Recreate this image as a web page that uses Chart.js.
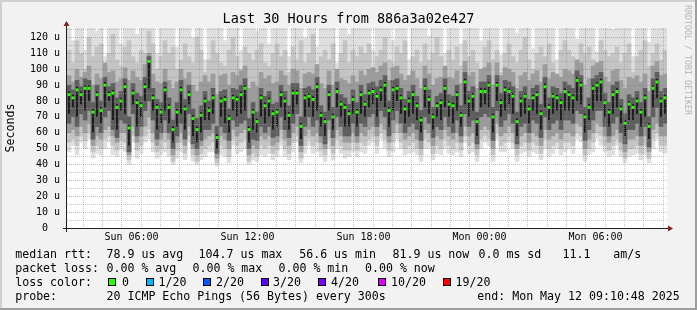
<!DOCTYPE html>
<html>
<head>
<meta charset="utf-8">
<script src="https://cdn.jsdelivr.net/npm/chart.js@4.4.1/dist/chart.umd.min.js"></script>
<style>
html, body { margin: 0; padding: 0; }
body { width: 697px; height: 310px; overflow: hidden; position: relative; background: #f2f2f2; font-family: 'DejaVu Sans Mono', monospace; }
#graf { position: absolute; left: 0; top: 0; }
.leg { position: absolute; font-size: 11.6px; line-height: 14px; white-space: pre; color: #000; }
.box { position: absolute; width: 6px; height: 6px; border: 1px solid #000; top: 278px; }
.sombra { position: absolute; }
#rrd { position: absolute; left: 692.6px; top: 4.5px; font-size: 8.3px; line-height: 10px; color: #b4b4b4; white-space: pre; transform-origin: 0 0; transform: rotate(90deg); }
</style>
</head>
<body>
<div class="sombra" style="left:0;top:0;width:697px;height:2px;background:#d0d0d0"></div>
<div class="sombra" style="left:0;top:0;width:2px;height:310px;background:#d0d0d0"></div>
<div class="sombra" style="left:0;top:308px;width:697px;height:2px;background:#9e9e9e"></div>
<div class="sombra" style="left:695px;top:0;width:2px;height:310px;background:#9e9e9e"></div>
<canvas id="graf" width="697" height="310"></canvas>
<div id="rrd">RRDTOOL / TOBI OETIKER</div>

<div class="leg" style="left:15.2px;top:247px">median rtt:</div>
<div class="leg" style="left:106.5px;top:247px">78.9 us avg</div>
<div class="leg" style="left:198.6px;top:247px">104.7 us max</div>
<div class="leg" style="left:299.2px;top:247px">56.6 us min</div>
<div class="leg" style="left:392.5px;top:247px">81.9 us now</div>
<div class="leg" style="left:478.5px;top:247px">0.0 ms sd</div>
<div class="leg" style="left:562.6px;top:247px">11.1</div>
<div class="leg" style="left:613.2px;top:247px">am/s</div>

<div class="leg" style="left:15.2px;top:261px">packet loss:</div>
<div class="leg" style="left:106.5px;top:261px">0.00 % avg</div>
<div class="leg" style="left:192.5px;top:261px">0.00 % max</div>
<div class="leg" style="left:278.5px;top:261px">0.00 % min</div>
<div class="leg" style="left:365px;top:261px">0.00 % now</div>

<div class="leg" style="left:15.2px;top:275px">loss color:</div>
<div class="box" style="left:108px;background:#26ff00"></div>
<div class="leg" style="left:122px;top:275px">0</div>
<div class="box" style="left:145.5px;background:#00b8ff"></div>
<div class="leg" style="left:158.5px;top:275px">1/20</div>
<div class="box" style="left:203px;background:#0059ff"></div>
<div class="leg" style="left:216px;top:275px">2/20</div>
<div class="box" style="left:260.5px;background:#5e00ff"></div>
<div class="leg" style="left:273px;top:275px">3/20</div>
<div class="box" style="left:318px;background:#7e00ff"></div>
<div class="leg" style="left:331px;top:275px">4/20</div>
<div class="box" style="left:377.5px;background:#dd00ff"></div>
<div class="leg" style="left:391px;top:275px">10/20</div>
<div class="box" style="left:442.5px;background:#ff0000"></div>
<div class="leg" style="left:455.5px;top:275px">19/20</div>

<div class="leg" style="left:15.2px;top:289px">probe:</div>
<div class="leg" style="left:106.5px;top:289px">20 ICMP Echo Pings (56 Bytes) every 300s</div>
<div class="leg" style="left:477.3px;top:289px">end: Mon May 12 09:10:48 2025</div>

<script>
// mediana por passo (us)
var mediana = [
	84,82,87,84,88,88,73,84,74,90,84,85,76,80,89,63,85,79,77,89,105,82,76,73,87,
	76,62,73,87,75,84,69,62,71,80,74,82,57,80,81,69,82,81,84,88,62,73,67,82,77,
	80,72,73,84,80,71,85,85,64,82,83,81,89,71,67,84,70,86,78,76,72,81,73,84,78,
	85,86,83,87,90,74,87,88,82,75,80,84,77,68,88,81,70,77,79,88,78,77,84,71,92,
	80,83,67,86,86,90,70,90,79,87,86,83,67,80,83,75,82,84,72,89,76,83,82,79,86,
	84,82,93,90,70,76,88,90,92,79,73,84,86,75,66,78,76,80,73,82,64,88,92,80,82
];

// fumaca: limites de cada faixa
var fumaca_max = [
	130,118,130,130,112,130,130,124,130,108,130,130,130,116,130,130,130,122,130,130,130,130,110,130,130,
	130,130,114,130,130,130,120,130,130,106,130,130,130,130,118,130,130,130,112,130,130,130,124,130,130,
	116,130,130,130,130,108,130,130,130,120,130,130,114,130,130,130,130,104,130,130,122,130,130,130,130,
	130,112,130,130,130,130,118,130,130,130,106,130,130,130,130,121,130,130,130,110,130,130,130,116,130,
	130,130,130,118,130,130,130,130,109,130,130,130,123,130,130,130,113,130,130,130,130,130,106,130,130,
	130,130,119,130,130,130,130,111,130,130,130,125,130,130,130,130,108,130,130,130,117,130,130,130,130
];
var fumaca_hi2 = [
	112,104,118,110,100,120,108,114,116,98,110,122,106,102,114,118,108,104,112,110,124,116,100,108,118,
	110,114,100,106,116,108,104,120,112,98,106,118,110,104,102,112,120,108,100,114,110,106,112,116,104,
	102,110,116,108,112,98,114,106,118,104,110,122,100,108,112,106,116,96,110,118,104,112,108,114,110,
	116,100,108,112,120,106,104,114,110,118,96,108,112,104,116,106,110,120,108,98,112,106,114,102,118,
	108,112,104,100,114,118,106,112,98,110,116,108,104,112,120,106,100,110,114,108,116,104,96,112,118,
	112,108,104,116,110,114,106,100,118,112,108,110,114,104,110,116,98,108,112,118,102,110,116,106,112
];
var fumaca_hi3 = [
	96,92,100,95,98,102,90,97,94,104,98,99,92,94,101,93,99,95,93,103,110,97,92,91,100,
	93,88,92,100,94,98,90,86,92,96,92,97,84,96,97,90,98,96,99,102,88,92,89,98,94,
	96,91,92,99,96,90,100,99,88,97,98,97,103,91,88,99,90,100,94,93,91,96,92,99,96,
	100,101,98,102,104,93,101,102,97,93,96,99,94,88,102,97,90,94,95,102,95,94,99,91,105,
	96,98,88,100,101,104,90,104,96,101,100,98,88,96,98,93,97,99,92,103,94,98,97,95,100,
	99,97,106,104,90,94,102,104,105,95,92,99,100,93,88,95,94,96,92,97,86,102,105,96,97
];
var fumaca_hi4 = [
	90,87,93,89,94,93,79,90,80,95,89,91,82,86,94,70,91,85,83,95,108,88,81,79,92,
	82,68,79,93,81,90,75,69,77,86,80,88,64,86,87,75,88,87,90,94,69,79,73,88,83,
	86,78,79,90,86,77,91,91,70,88,89,87,95,77,73,90,76,92,84,82,78,87,79,90,84,
	91,92,89,93,96,80,93,94,88,81,86,90,83,74,94,87,76,83,85,94,84,83,90,77,98,
	86,89,73,92,92,96,76,96,85,93,92,89,73,86,89,81,88,90,78,95,82,89,88,85,92,
	90,88,99,96,76,82,94,96,98,85,79,90,92,81,72,84,82,86,79,88,70,94,98,86,88
];
var fumaca_hi5 = [
	86,84,89,86,90,90,75,86,76,92,86,87,78,82,91,65,87,81,79,91,106,84,78,75,89,
	78,64,75,89,77,86,71,64,73,82,76,84,59,82,83,71,84,83,86,90,64,75,69,84,79,
	82,74,75,86,82,73,87,87,66,84,85,83,91,73,69,86,72,88,80,78,74,83,75,86,80,
	87,88,85,89,92,76,89,90,84,77,82,86,79,70,90,83,72,79,81,90,80,79,86,73,94,
	82,85,69,88,88,92,72,92,81,89,88,85,69,82,85,77,84,86,74,91,78,85,84,81,88,
	86,84,95,92,72,78,90,92,94,81,75,86,88,77,68,80,78,82,75,84,66,90,94,82,84
];
var fumaca_lo5 = [
	72,76,70,78,74,80,60,70,66,76,80,68,62,74,72,52,78,64,70,80,88,74,62,66,74,
	66,54,64,72,62,78,58,54,60,68,68,72,50,70,66,60,74,70,72,74,54,62,60,70,66,
	70,62,64,76,68,62,72,78,56,70,76,70,74,64,58,74,62,76,70,64,64,72,64,72,70,
	76,78,70,80,76,64,74,80,72,66,70,72,68,60,76,72,62,70,68,76,70,66,74,64,78,
	70,74,58,76,78,76,60,80,70,74,78,72,58,70,72,66,74,72,62,76,68,72,74,68,74,
	74,72,80,78,60,68,74,80,80,70,64,72,76,66,58,68,68,72,64,70,56,76,82,70,72
];
var fumaca_lo4 = [
	66,70,64,72,68,74,56,64,60,70,74,62,57,68,66,48,72,58,64,74,80,68,56,60,68,
	60,50,58,66,56,72,53,50,55,62,62,66,47,64,60,55,68,64,66,68,50,56,55,64,60,
	64,57,58,70,62,57,66,72,52,64,70,64,68,58,53,68,57,70,64,58,58,66,58,66,64,
	70,72,64,74,70,58,68,74,66,60,64,66,62,55,70,66,57,64,62,70,64,60,68,58,72,
	64,68,53,70,72,70,55,74,64,68,72,66,53,64,66,60,68,66,57,70,62,66,68,62,68,
	68,66,74,72,55,62,68,74,74,64,58,66,70,60,53,62,62,66,58,64,51,70,76,64,66
];
var fumaca_lo3 = [
	60,62,58,64,60,66,52,58,56,62,64,58,54,60,60,46,64,54,58,64,70,60,52,56,60,
	56,46,54,60,52,64,50,46,52,56,58,60,44,58,56,50,62,58,60,62,46,52,50,58,56,
	58,52,54,62,56,52,60,64,48,58,62,58,60,54,50,62,52,62,58,54,54,60,54,60,58,
	62,64,58,66,62,54,60,66,60,56,58,60,56,50,62,60,52,58,56,62,58,56,60,54,64,
	58,60,50,62,64,62,50,66,58,60,64,60,50,58,60,54,60,58,52,62,56,58,60,56,60,
	60,58,66,64,50,56,60,66,64,58,54,58,62,54,48,56,56,58,52,58,48,62,66,58,58
];
var fumaca_lo2 = [
	54,56,52,58,55,60,48,52,50,56,58,52,49,55,54,43,58,49,52,58,62,54,48,50,54,
	50,42,49,54,47,58,46,42,47,50,52,54,41,52,50,45,56,52,54,56,42,47,45,52,50,
	52,47,49,56,50,47,54,58,44,52,56,52,54,49,46,56,47,56,52,49,49,54,49,54,52,
	56,58,52,60,56,49,54,60,54,50,52,54,50,46,56,54,47,52,50,56,52,50,54,49,58,
	52,54,46,56,58,56,46,60,52,54,58,54,46,52,54,49,54,52,47,56,50,52,54,50,54,
	54,52,60,58,46,50,54,60,58,52,49,52,56,49,44,50,50,52,47,52,44,56,60,52,52
];
var fumaca_min = [
	48,52,46,54,50,56,44,47,46,50,54,46,45,50,48,40,54,44,47,54,56,48,44,46,48,
	45,40,44,48,43,54,42,40,43,45,48,48,39,46,45,41,52,47,48,50,40,43,42,46,45,
	47,43,45,52,45,43,48,54,41,47,52,47,48,45,42,50,43,50,47,44,45,48,45,48,47,
	52,54,47,56,50,45,48,56,50,46,47,48,46,42,50,50,43,47,46,50,47,46,48,45,54,
	47,48,42,50,54,52,42,56,48,48,54,50,42,47,48,45,48,47,43,50,45,47,50,46,48,
	50,47,56,54,42,46,48,56,52,48,45,46,52,45,41,45,46,47,43,46,41,50,56,48,47
];

// eixo do tempo: inicio Sun 03:10:48, 30 horas
var hora_inicio = 3 + 10.8 / 60;
var horas_rotulo = [6, 12, 18, 24, 30];
var rotulos_tempo = ["Sun 06:00", "Sun 12:00", "Sun 18:00", "Mon 00:00", "Mon 06:00"];
var ticks_y = [0,5,10,15,20,25,30,35,40,45,50,55,60,65,70,75,80,85,90,95,100,105,110,115,120,125];

var passos = mediana.map(function (v, i) { return i; });
var cor_grid = "rgba(150, 150, 150, 0.55)";
var cor_mgrid = "rgba(225, 80, 80, 0.5)";
var fonte = "'DejaVu Sans Mono', monospace";

function faixa(lo, hi, cor, ordem, largura) {
	return {
		type: "bar",
		data: lo.map(function (v, i) { return [v, hi[i]]; }),
		backgroundColor: cor,
		borderWidth: 0,
		grouped: false,
		barPercentage: largura,
		categoryPercentage: 1,
		order: ordem,
		xAxisID: "x",
		yAxisID: "y",
	};
}

var moldura = {
	id: "moldura",
	beforeDraw: function (chart) {
		var a = chart.chartArea, ctx = chart.ctx;
		ctx.save();
		ctx.fillStyle = "#ffffff";
		ctx.fillRect(a.left, a.top, a.right - a.left, a.bottom - a.top);
		ctx.restore();
	},
	afterDraw: function (chart) {
		var a = chart.chartArea, ctx = chart.ctx;
		ctx.save();
		ctx.strokeStyle = "#1f1f1f";
		ctx.lineWidth = 1;
		ctx.beginPath();
		ctx.moveTo(a.left - 4, a.bottom + 0.5);
		ctx.lineTo(a.right + 2, a.bottom + 0.5);
		ctx.moveTo(a.left - 0.5, a.bottom + 4);
		ctx.lineTo(a.left - 0.5, a.top - 2);
		ctx.stroke();
		ctx.fillStyle = "#801f1f";
		ctx.beginPath();
		ctx.moveTo(a.right + 6, a.bottom + 0.5);
		ctx.lineTo(a.right + 1, a.bottom - 2.5);
		ctx.lineTo(a.right + 1, a.bottom + 3.5);
		ctx.closePath();
		ctx.fill();
		ctx.beginPath();
		ctx.moveTo(a.left - 0.5, a.top - 7);
		ctx.lineTo(a.left - 3.5, a.top - 2);
		ctx.lineTo(a.left + 2.5, a.top - 2);
		ctx.closePath();
		ctx.fill();
		ctx.restore();
	},
};

new Chart(document.getElementById("graf"), {
	type: "bar",
	data: {
		labels: passos,
		datasets: [
			{
				type: "line",
				data: mediana,
				showLine: false,
				pointStyle: "rect",
				pointRadius: 2.1,
				pointBackgroundColor: "#26ff00",
				pointBorderWidth: 0,
				order: 0,
				xAxisID: "x",
				yAxisID: "y",
			},
			faixa(fumaca_lo5, fumaca_hi5, "#1e1e1e", 1, 0.5),
			faixa(fumaca_lo4, fumaca_hi4, "#5e5e5e", 2, 1),
			faixa(fumaca_lo3, fumaca_hi3, "#9c9c9c", 3, 1),
			faixa(fumaca_lo2, fumaca_hi2, "#c4c4c4", 4, 1),
			faixa(fumaca_min, fumaca_max, "#dfdfdf", 5, 1),
		],
	},
	options: {
		responsive: false,
		animation: false,
		devicePixelRatio: 1,
		layout: { padding: { left: 0, right: 0, top: 0, bottom: 0 } },
		plugins: {
			legend: { display: false },
			tooltip: { enabled: false },
			title: {
				display: true,
				text: "Last 30 Hours from 886a3a02e427",
				color: "#000",
				font: { family: fonte, size: 13.5, weight: "normal" },
				padding: { top: 11.3, bottom: 0.5 },
			},
		},
		scales: {
			x: {
				type: "category",
				display: false,
				offset: true,
			},
			xt: {
				type: "linear",
				position: "bottom",
				min: 0,
				max: 30,
				afterBuildTicks: function (axis) {
					var t = [];
					for (var h = 4; h <= 33; h++) t.push({ value: h - hora_inicio });
					axis.ticks = t;
				},
				afterFit: function (axis) { axis.height = 82; },
				grid: {
					z: 1,
					drawTicks: false,
					color: function (c) {
						if (!c.tick) return cor_grid;
						var h = Math.round(c.tick.value + hora_inicio);
						return h % 3 === 0 ? cor_mgrid : cor_grid;
					},
				},
				border: { display: false, dash: [1, 1] },
				ticks: {
					autoSkip: false,
					maxRotation: 0,
					padding: 3,
					color: "#000",
					font: { family: fonte, size: 10 },
					callback: function (v) {
						var h = Math.round(v + hora_inicio);
						var k = horas_rotulo.indexOf(h);
						return k >= 0 ? rotulos_tempo[k] : "";
					},
				},
			},
			y: {
				type: "linear",
				position: "left",
				min: 0,
				max: 126,
				afterBuildTicks: function (axis) {
					axis.ticks = ticks_y.map(function (v) { return { value: v }; });
				},
				afterFit: function (axis) { axis.width = 67; },
				grid: {
					z: 1,
					drawTicks: false,
					color: function (c) {
						if (!c.tick) return cor_grid;
						return c.tick.value % 10 === 0 ? cor_mgrid : cor_grid;
					},
				},
				border: { display: false, dash: [1, 1] },
				title: {
					display: true,
					text: "Seconds",
					color: "#000",
					font: { family: fonte, size: 11.6 },
					padding: { top: 4, bottom: 0 },
				},
				ticks: {
					autoSkip: false,
					padding: 7,
					color: "#000",
					font: { family: fonte, size: 10 },
					callback: function (v) {
						if (v % 10 !== 0) return "";
						return v === 0 ? "0  " : v + " u";
					},
				},
			},
			// espaco vazio a direita do grafico
			margem: {
				type: "linear",
				position: "right",
				min: 0,
				max: 1,
				afterFit: function (axis) { axis.width = 30; },
				grid: { display: false },
				border: { display: false },
				ticks: { display: false },
			},
		},
	},
	plugins: [moldura],
});
</script>
</body>
</html>
